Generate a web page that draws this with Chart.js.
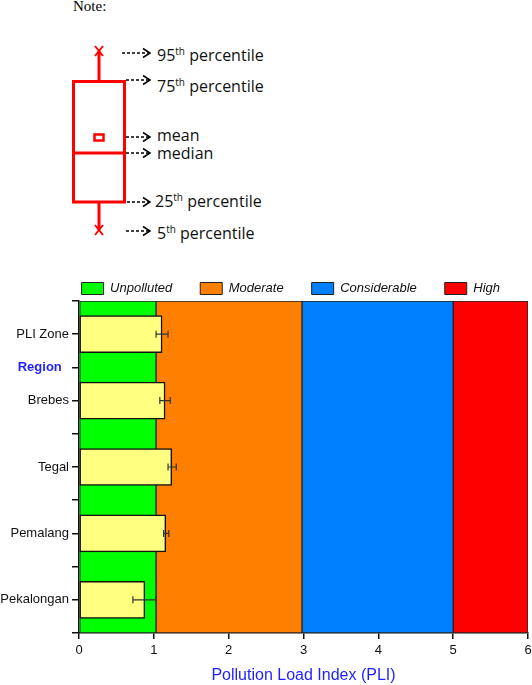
<!DOCTYPE html>
<html>
<head>
<meta charset="utf-8">
<script src="https://cdn.jsdelivr.net/npm/chart.js@4.4.1/dist/chart.umd.min.js"></script>
<style>
  html, body { margin: 0; padding: 0; background: #fff; }
  #wrap { position: relative; width: 532px; height: 685px; overflow: hidden; }
  #note { position: absolute; left: 0; top: 0; }
  #box { position: absolute; left: 0; top: 254px; width: 532px; height: 431px; }
</style>
</head>
<body>
<div id="wrap">
  <svg id="note" width="300" height="250">
    <text x="73" y="11" font-family="Liberation Serif" font-size="15">Note:</text>
    <g stroke="#ff0000" stroke-width="3" fill="none">
      <line x1="99" y1="51" x2="99" y2="81" />
      <rect x="73.5" y="81.5" width="51" height="120.5" />
      <line x1="73" y1="153" x2="125" y2="153" />
      <rect x="94.5" y="134.5" width="9" height="6" stroke-width="2.5" />
      <line x1="99" y1="202" x2="99" y2="230" />
      <path d="M95 46 L103 56 M103 46 L95 56" stroke-width="2" />
      <path d="M95 225 L103 235 M103 225 L95 235" stroke-width="2" />
    </g>
    <g stroke="#000" stroke-width="1.5" fill="none">
      <line x1="122" y1="53" x2="149" y2="53" stroke-dasharray="3,2" />
      <polyline points="143,48.5 150,53 143,57.5" />
      <line x1="126" y1="80" x2="149" y2="80" stroke-dasharray="3,2" />
      <polyline points="143,75.5 150,80 143,84.5" />
      <line x1="126" y1="137" x2="149" y2="137" stroke-dasharray="3,2" />
      <polyline points="143,132.5 150,137 143,141.5" />
      <line x1="126" y1="153" x2="149" y2="153" stroke-dasharray="3,2" />
      <polyline points="143,148.5 150,153 143,157.5" />
      <line x1="127" y1="202" x2="149" y2="202" stroke-dasharray="3,2" />
      <polyline points="143,197.5 150,202 143,206.5" />
      <line x1="126" y1="231" x2="149" y2="231" stroke-dasharray="3,2" />
      <polyline points="143,226.5 150,231 143,235.5" />
    </g>
    <g font-family="Open Sans" font-size="16" fill="#111">
      <text x="157" y="61">95<tspan font-size="10" dy="-6">th</tspan><tspan dy="6"> percentile</tspan></text>
      <text x="157" y="92">75<tspan font-size="10" dy="-6">th</tspan><tspan dy="6"> percentile</tspan></text>
      <text x="157" y="141">mean</text>
      <text x="157" y="159">median</text>
      <text x="155" y="207">25<tspan font-size="10" dy="-6">th</tspan><tspan dy="6"> percentile</tspan></text>
      <text x="157" y="239">5<tspan font-size="10" dy="-6">th</tspan><tspan dy="6"> percentile</tspan></text>
    </g>
  </svg>
  <div id="box"><canvas id="pli-chart"></canvas></div>
</div>
<script>
// y axis slots, top to bottom (blank ones only carry a tick mark)
const yLabels = ["", "PLI Zone", "Region", "Brebes", "", "Tegal", "", "Pemalang", "", "Pekalongan", ""];
const categories = ["PLI Zone", "Brebes", "Tegal", "Pemalang", "Pekalongan"];
const pliMean = [1.11, 1.15, 1.24, 1.16, 0.88];
const errLow = [1.03, 1.08, 1.19, 1.13, 0.72];
const errHigh = [1.19, 1.22, 1.30, 1.20, 1.03];

// PLI classes shown as background bands
const zoneNames = ["Unpolluted", "Moderate", "Considerable", "High"];
const zoneStart = [0, 1.03, 2.98, 5];
const zoneEnd = [1.03, 2.98, 5, 6];
const zoneColors = ["#00ff00", "#ff8000", "#0080ff", "#ff0000"];

const xTicks = [0, 1, 2, 3, 4, 5, 6];

const FONT = "Arial, 'Liberation Sans', sans-serif";
const BLUE = "#1f1fff";

const zoneSets = zoneNames.map((name, i) => ({
  label: name,
  type: "bar",
  yAxisID: "yz",
  data: [[zoneStart[i], zoneEnd[i]]],
  backgroundColor: zoneColors[i],
  borderColor: "#222",
  borderWidth: 1,
  borderSkipped: false,
  grouped: false,
  barPercentage: 1,
  categoryPercentage: 1,
  order: 2,
}));

// error bars drawn on top of the PLI bars
const errorBars = {
  id: "errorBars",
  afterDatasetsDraw(chart) {
    const meta = chart.getDatasetMeta(0);
    const x = chart.scales.x;
    const ctx = chart.ctx;
    ctx.save();
    ctx.strokeStyle = "#333";
    ctx.lineWidth = 1.2;
    meta.data.forEach((bar, i) => {
      const x1 = x.getPixelForValue(errLow[i]);
      const x2 = x.getPixelForValue(errHigh[i]);
      const y = bar.y;
      ctx.beginPath();
      ctx.moveTo(x1, y);
      ctx.lineTo(x2, y);
      ctx.moveTo(x1, y - 3.5);
      ctx.lineTo(x1, y + 3.5);
      ctx.moveTo(x2, y - 3.5);
      ctx.lineTo(x2, y + 3.5);
      ctx.stroke();
    });
    ctx.restore();
  },
};

// legend sits a bit closer to the plot than chart.js leaves by default
const tightLegend = {
  id: "tightLegend",
  beforeLayout(chart) {
    const lg = chart.legend;
    if (lg && !lg._tight) {
      const fit = lg.fit;
      lg.fit = function () {
        fit.call(this);
        this.height -= 4;
      };
      lg._tight = true;
    }
  },
};

const ctx = document.getElementById("pli-chart").getContext("2d");
const chart = new Chart(ctx, {
  type: "bar",
  data: {
    datasets: [
      {
        label: "PLI",
        yAxisID: "y",
        data: categories.map((c, i) => ({ y: c, x: pliMean[i] })),
        backgroundColor: "#ffff80",
        borderColor: "#111",
        borderWidth: 1.5,
        borderSkipped: false,
        barThickness: 37,
        grouped: false,
        order: 1,
      },
      ...zoneSets,
    ],
  },
  options: {
    indexAxis: "y",
    responsive: true,
    maintainAspectRatio: false,
    animation: false,
    layout: { padding: { right: 4, top: 0, bottom: 0, left: 0 } },
    plugins: {
      tooltip: { enabled: false },
      legend: {
        position: "top",
        align: "end",
        labels: {
          filter: (item) => zoneNames.includes(item.text),
          boxWidth: 22,
          boxHeight: 12,
          padding: 28,
          color: "#111",
          font: { family: FONT, size: 13, style: "italic" },
        },
      },
    },
    scales: {
      x: {
        type: "linear",
        min: 0,
        max: 6,
        afterBuildTicks: (scale) => {
          scale.ticks = xTicks.map((v) => ({ value: v }));
        },
        afterFit: (scale) => {
          scale.height = 52;
          scale.paddingRight = 0;
          scale.paddingLeft = 0;
        },
        ticks: { color: "#111", padding: 4, font: { family: FONT, size: 13 } },
        grid: { drawOnChartArea: false, drawTicks: true, tickLength: 6, tickColor: "#111", lineWidth: 1.5 },
        border: { display: true, color: "#111", width: 1.5 },
        title: {
          display: true,
          text: "Pollution Load Index (PLI)",
          color: BLUE,
          font: { family: FONT, size: 16 },
          padding: { top: 4, bottom: 0 },
        },
      },
      y: {
        type: "category",
        labels: yLabels,
        offset: false,
        afterFit: (scale) => {
          scale.width = 79;
        },
        ticks: {
          autoSkip: false,
          padding: 3,
          callback: (v, i) => (yLabels[i] === "Region" ? "Region  " : yLabels[i]),
          color: (c) => (yLabels[c.index] === "Region" ? BLUE : "#111"),
          font: (c) => ({ family: FONT, size: 13, weight: yLabels[c.index] === "Region" ? "bold" : "normal" }),
        },
        grid: { offset: false, drawOnChartArea: false, drawTicks: true, tickLength: 7, tickColor: "#111", lineWidth: 1.5 },
        border: { display: true, color: "#111", width: 1.5 },
      },
      yz: {
        type: "category",
        labels: ["zones"],
        display: false,
      },
    },
  },
  plugins: [errorBars, tightLegend],
});
</script>
</body>
</html>
